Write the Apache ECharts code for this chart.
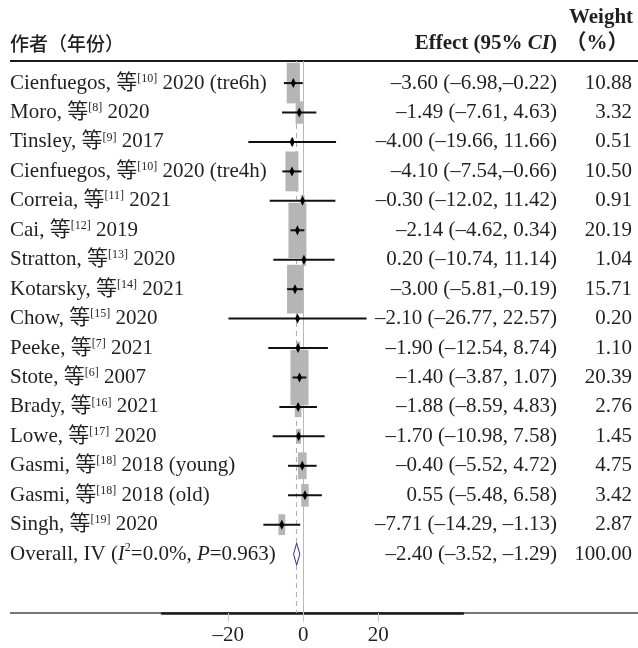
<!DOCTYPE html>
<html>
<head>
<meta charset="utf-8">
<script src="https://cdn.jsdelivr.net/npm/echarts@6/dist/echarts.min.js"></script>
<style>
  html, body { margin: 0; padding: 0; background: #fff; }
  #forest-chart { width: 638px; height: 648px; }
</style>
</head>
<body>
<div id="forest-chart"></div>
<script>
  // study rows, top to bottom
  const authors = ['Cienfuegos', 'Moro', 'Tinsley', 'Cienfuegos', 'Correia', 'Cai', 'Stratton', 'Kotarsky',
    'Chow', 'Peeke', 'Stote', 'Brady', 'Lowe', 'Gasmi', 'Gasmi', 'Singh'];
  const refs = [10, 8, 9, 10, 11, 12, 13, 14, 15, 7, 6, 16, 17, 18, 18, 19];
  const years = [2020, 2020, 2017, 2020, 2021, 2019, 2020, 2021, 2020, 2021, 2007, 2021, 2020, 2018, 2018, 2020];
  const notes = ['tre6h', '', '', 'tre4h', '', '', '', '', '', '', '', '', '', 'young', 'old', ''];
  const effects = [-3.60, -1.49, -4.00, -4.10, -0.30, -2.14, 0.20, -3.00, -2.10, -1.90, -1.40, -1.88, -1.70, -0.40, 0.55, -7.71];
  const lower = [-6.98, -7.61, -19.66, -7.54, -12.02, -4.62, -10.74, -5.81, -26.77, -12.54, -3.87, -8.59, -10.98, -5.52, -5.48, -14.29];
  const upper = [-0.22, 4.63, 11.66, -0.66, 11.42, 0.34, 11.14, -0.19, 22.57, 8.74, 1.07, 4.83, 7.58, 4.72, 6.58, -1.13];
  const weights = [10.88, 3.32, 0.51, 10.50, 0.91, 20.19, 1.04, 15.71, 0.20, 1.10, 20.39, 2.76, 1.45, 4.75, 3.42, 2.87];

  // pooled result
  const overallEffect = -2.40;
  const overallLower = -3.52;
  const overallUpper = -1.29;
  const overallWeight = 100.00;
  const overallI2 = '0.0%';
  const overallP = '0.963';

  const tickValues = [-20, 0, 20];

  const serif = 'Liberation Serif, Noto Sans CJK SC, serif';
  const ink = '#231f20';
  const dash = (v) => (v < 0 ? '–' : '') + Math.abs(v).toFixed(2);
  const overallRow = authors.length + 1;

  const studyLabel = (i) => {
    const note = notes[i] ? ' (' + notes[i] + ')' : '';
    return authors[i] + ', 等{sup|[' + refs[i] + ']} ' + years[i] + note;
  };
  const effectLabel = (est, lo, hi) => {
    const gap = hi < 0 && hi > -1 ? '' : ' ';
    return dash(est) + ' (' + dash(lo) + ',' + gap + dash(hi) + ')';
  };

  const richText = {
    sup: { fontSize: 12, fontFamily: serif, fill: ink, verticalAlign: 'top', lineHeight: 12 },
    it: { fontSize: 21, fontFamily: serif, fontStyle: 'italic', fill: ink, lineHeight: 24 },
  };

  const textRows = authors.map((a, i) => ({
    value: [0, i + 1],
    label: studyLabel(i),
    effect: effectLabel(effects[i], lower[i], upper[i]),
    weight: weights[i].toFixed(2),
  }));
  textRows.push({
    value: [0, overallRow],
    label: 'Overall, IV ({it|I}{sup|2}=' + overallI2 + ', {it|P}=' + overallP + ')',
    effect: effectLabel(overallEffect, overallLower, overallUpper),
    weight: overallWeight.toFixed(2),
  });

  const textStyle = (text, x, align) => ({
    type: 'text',
    x: x,
    style: {
      text: text, align: align, verticalAlign: 'middle',
      fontSize: 21, fontFamily: serif, fill: ink, rich: richText,
    },
  });

  const chart = echarts.init(document.getElementById('forest-chart'));

  chart.setOption({
    animation: false,
    grid: { left: 162, right: 175, top: 61, bottom: 35 },
    xAxis: [
      { type: 'value', min: -50.5, max: 57.0, show: false },
      {
        type: 'value', min: -37.7, max: 42.6, position: 'bottom',
        axisLine: { lineStyle: { color: '#1a1a1a', width: 2.5 } },
        axisTick: { customValues: tickValues, length: 9, lineStyle: { color: '#c8c8c8', width: 1 } },
        axisLabel: {
          customValues: tickValues, margin: 12, fontSize: 21, fontFamily: serif, color: ink,
          formatter: (v) => (v < 0 ? '–' + Math.abs(v) : String(v)),
        },
        splitLine: { show: false },
      },
    ],
    yAxis: { type: 'value', min: 0.25, max: 19, inverse: true, show: false },
    graphic: [
      { type: 'line', shape: { x1: 10, y1: 61, x2: 638, y2: 61 }, style: { stroke: '#1a1a1a', lineWidth: 2 } },
      { type: 'line', shape: { x1: 10, y1: 613, x2: 638, y2: 613 }, style: { stroke: '#4a4a4a', lineWidth: 1.5 }, z: -1 },
      {
        type: 'text', x: 10, y: 44,
        style: { text: '作者（年份）', fontSize: 19, fontWeight: 500, fontFamily: 'Noto Sans CJK SC', fill: ink, align: 'left', verticalAlign: 'middle' },
      },
      {
        type: 'text', x: 557, y: 44,
        style: {
          text: 'Effect (95% {bi|CI})', fontSize: 21, fontWeight: 'bold', fontFamily: serif, fill: ink,
          align: 'right', verticalAlign: 'middle',
          rich: { bi: { fontSize: 21, fontWeight: 'bold', fontStyle: 'italic', fontFamily: serif, fill: ink } },
        },
      },
      {
        type: 'text', x: 601, y: 18,
        style: { text: 'Weight', fontSize: 21, fontWeight: 'bold', fontFamily: serif, fill: ink, align: 'center', verticalAlign: 'middle' },
      },
      {
        type: 'text', x: 597, y: 44,
        style: { text: '（%）', fontSize: 21, fontWeight: 'bold', fontFamily: serif, fill: ink, align: 'center', verticalAlign: 'middle' },
      },
    ],
    series: [
      {
        name: 'reference',
        type: 'line',
        data: [[overallEffect, overallRow]],
        showSymbol: false,
        lineStyle: { opacity: 0 },
        markLine: {
          silent: true, symbol: 'none', z: 1, label: { show: false },
          data: [
            { xAxis: 0, lineStyle: { color: '#b8b8b8', width: 1, type: 'solid' } },
            { xAxis: overallEffect, lineStyle: { color: '#c4a4ab', width: 1, type: [5, 4] } },
          ],
        },
      },
      {
        name: 'weight boxes',
        type: 'custom',
        z: 3,
        data: effects.map((e, i) => [e, i + 1, weights[i]]),
        encode: { x: 0, y: 1 },
        renderItem: (params, api) => {
          const c = api.coord([api.value(0), api.value(1)]);
          const s = Math.sqrt(api.value(2));
          const w = 4 * s;
          const h = 12.3 * s;
          return { type: 'rect', shape: { x: c[0] - w / 2, y: c[1] - h / 2, width: w, height: h }, style: { fill: '#b5b5b5' } };
        },
      },
      {
        name: 'intervals',
        type: 'custom',
        z: 4,
        data: effects.map((e, i) => [lower[i], upper[i], e, i + 1]),
        encode: { x: [0, 1, 2], y: 3 },
        renderItem: (params, api) => {
          const row = api.value(3);
          const a = api.coord([api.value(0), row]);
          const b = api.coord([api.value(1), row]);
          const m = api.coord([api.value(2), row]);
          return {
            type: 'group',
            children: [
              { type: 'line', shape: { x1: a[0], y1: a[1], x2: b[0], y2: b[1] }, style: { stroke: '#111', lineWidth: 2 } },
              {
                type: 'polygon',
                shape: { points: [[m[0], m[1] - 5], [m[0] + 2.5, m[1]], [m[0], m[1] + 5], [m[0] - 2.5, m[1]]] },
                style: { fill: '#000' },
              },
            ],
          };
        },
      },
      {
        name: 'overall',
        type: 'custom',
        z: 4,
        data: [[overallLower, overallUpper, overallEffect, overallRow]],
        encode: { x: [0, 1, 2], y: 3 },
        renderItem: (params, api) => {
          const row = api.value(3);
          const a = api.coord([api.value(0), row]);
          const b = api.coord([api.value(1), row]);
          const m = api.coord([api.value(2), row]);
          return {
            type: 'polygon',
            shape: { points: [[a[0], a[1]], [m[0], m[1] - 11], [b[0], b[1]], [m[0], m[1] + 11]] },
            style: { fill: '#fff', stroke: '#2b2b85', lineWidth: 1 },
          };
        },
      },
      {
        name: 'columns',
        type: 'custom',
        z: 5,
        data: textRows,
        encode: { x: 0, y: 1 },
        renderItem: (params, api) => {
          const row = textRows[params.dataIndex];
          const y = api.coord([0, api.value(1)])[1];
          return {
            type: 'group',
            y: y,
            children: [
              textStyle(row.label, 10, 'left'),
              textStyle(row.effect, 557, 'right'),
              textStyle(row.weight, 632, 'right'),
            ],
          };
        },
      },
    ],
  });
</script>
</body>
</html>
